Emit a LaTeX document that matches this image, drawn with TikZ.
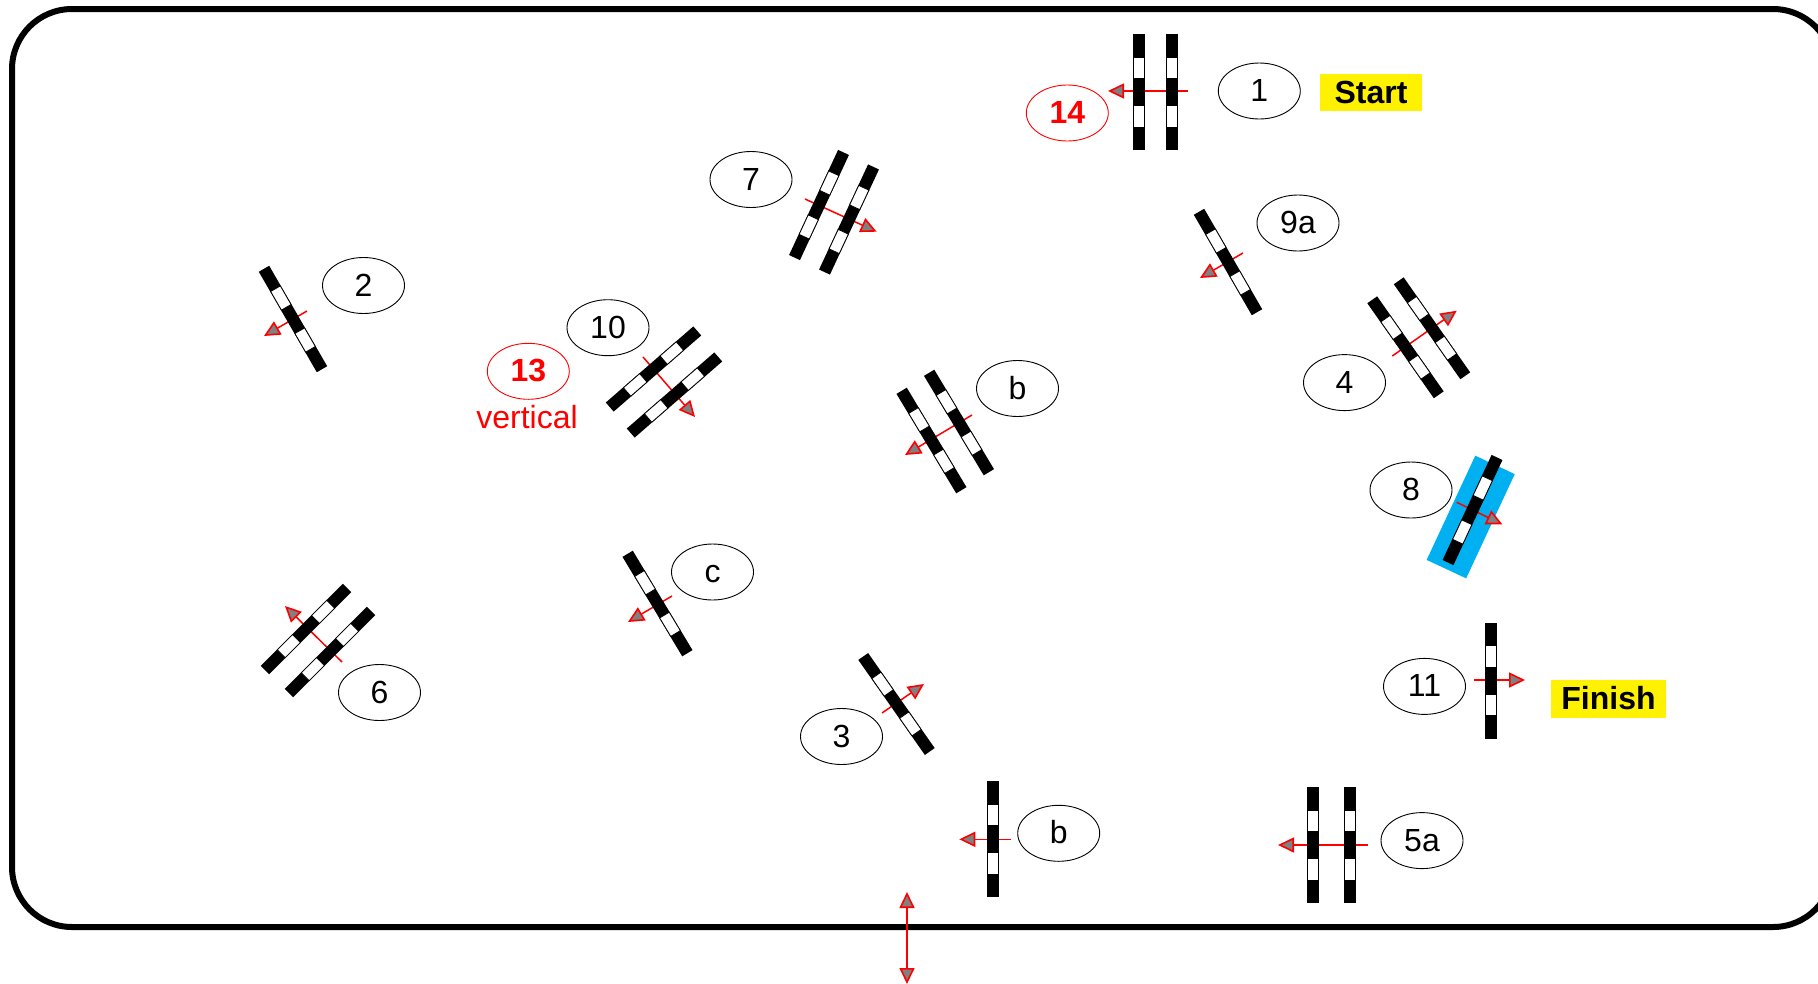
\documentclass[tikz,border=0pt]{standalone}
\usepackage{fontspec}
\setmainfont{Liberation Sans}
\usetikzlibrary{arrows.meta,shapes.geometric}

\definecolor{gateblue}{HTML}{00B0F0}
\tikzset{
  graytip/.tip={Triangle[length=16pt,width=15pt,line width=1.6pt,fill=gray]},
  labelnode/.style={ellipse, draw=black, line width=0.9pt, fill=white, minimum width=82pt, minimum height=56pt, inner sep=0pt, text height=23pt, text depth=2pt, font=\fontsize{32}{36}\selectfont},
  rednode/.style={labelnode, draw=red, text=red, font=\fontsize{32}{36}\selectfont\bfseries},
  flagnode/.style={fill=yellow, inner sep=0pt, text height=23pt, text depth=2pt, font=\fontsize{32}{36}\selectfont\bfseries},
  gatearrow/.style={draw=red, line width=1.5pt, -graytip}
}
\newcommand{\gatebar}[3]{
  \begin{scope}[shift={(#1,#2)},rotate=#3]
    \fill[black] (-6,-58) rectangle (6,58);
    \draw[fill=white, draw=black, line width=0.8pt] (-5.6,-35) rectangle (5.6,-13.5);
    \draw[fill=white, draw=black, line width=0.8pt] (-5.6,13.5) rectangle (5.6,35);
  \end{scope}
}

\begin{document}
\begin{tikzpicture}[x=1pt,y=-1pt]
  \clip (0,0) rectangle (1818,983);
  % outer frame
  \draw[line width=6pt, rounded corners=60pt] (12,9) rectangle (1833,927);

  % arrows first, the bars cover them
  \draw[gatearrow] (1188,91) -- (1108,91);
  \draw[gatearrow] (805,199) -- (876.7,231.7);
  \draw[gatearrow] (307,311) -- (264,336);
  \draw[gatearrow] (1243,253) -- (1200,278);
  \draw[gatearrow] (1392.3,356) -- (1456.7,310.7);
  \draw[gatearrow] (972,415) -- (905,455);
  \draw[gatearrow] (643,357) -- (695,417);
  \fill[gateblue, rotate around={-25:(1470.7,517)}] (1448.9,459.5) rectangle (1492.5,574.5);
  \draw[gatearrow] (1456.7,502.3) -- (1502.3,524.3);
  \draw[gatearrow] (672,596) -- (628,622);
  \draw[gatearrow] (342,662) -- (285,606);
  \draw[gatearrow] (882,713) -- (924,684);
  \draw[gatearrow] (1474,680) -- (1525,680);
  \draw[gatearrow] (1368,845) -- (1278,845);
  \draw[gatearrow] (1010.7,839.3) -- (959.3,839.3);
  \draw[gatearrow, graytip-graytip] (907,892) -- (907,984);

  % gates
  \gatebar{1139}{92}{0}
  \gatebar{1172}{92}{0}
  \gatebar{819}{205}{-25}
  \gatebar{849}{219.5}{-25}
  \gatebar{293}{319}{30}
  \gatebar{1228}{262}{30}
  \gatebar{1405.5}{347.3}{35}
  \gatebar{1432}{328.3}{35}
  \gatebar{931.5}{440.5}{31}
  \gatebar{959}{422.5}{31}
  \gatebar{653.5}{369}{-49}
  \gatebar{674.5}{395}{-49}
  \gatebar{1472.5}{510}{-25}
  \gatebar{657.5}{603.5}{31}
  \gatebar{306}{629}{-45}
  \gatebar{330}{652}{-45}
  \gatebar{896.5}{704}{35}
  \gatebar{1491}{680.5}{0}
  \gatebar{1312.5}{845}{0}
  \gatebar{1350}{845}{0}
  \gatebar{993}{839}{0}

  % labels
  \node[labelnode] (n1) at (1259.3,91) {1};
  \node[labelnode] (n2) at (363.5,285.5) {2};
  \node[labelnode] (n3) at (841.5,736.5) {3};
  \node[labelnode] (n4) at (1344.5,382.6) {4};
  \node[labelnode] (n5a) at (1422,840.6) {5a};
  \node[labelnode] (n6) at (379.5,692.5) {6};
  \node[labelnode] (n7) at (751,179.5) {7};
  \node[labelnode] (n8) at (1411,490) {8};
  \node[labelnode] (n9a) at (1298,223) {9a};
  \node[labelnode] (n10) at (608,327.7) {10};
  \node[labelnode] (n11) at (1424.5,686.4) {11};
  \node[labelnode] (nbup) at (1017.5,388.5) {b};
  \node[labelnode] (nblow) at (1058.7,833.3) {b};
  \node[labelnode] (nc) at (712.5,572) {c};
  \node[rednode] (n13) at (528.3,371.3) {13};
  \node[text=red, inner sep=0pt, text height=23pt, text depth=2pt, font=\fontsize{32}{36}\selectfont] (nvert) at (527,418) {vertical};
  \node[rednode] (n14) at (1067.3,113) {14};

  \node[flagnode, minimum width=102pt, minimum height=37pt] (nstart) at (1371,92.5) {Start};
  \node[flagnode, minimum width=115pt, minimum height=38.5pt] (nfinish) at (1608.5,699.2) {Finish};
\end{tikzpicture}
\end{document}
